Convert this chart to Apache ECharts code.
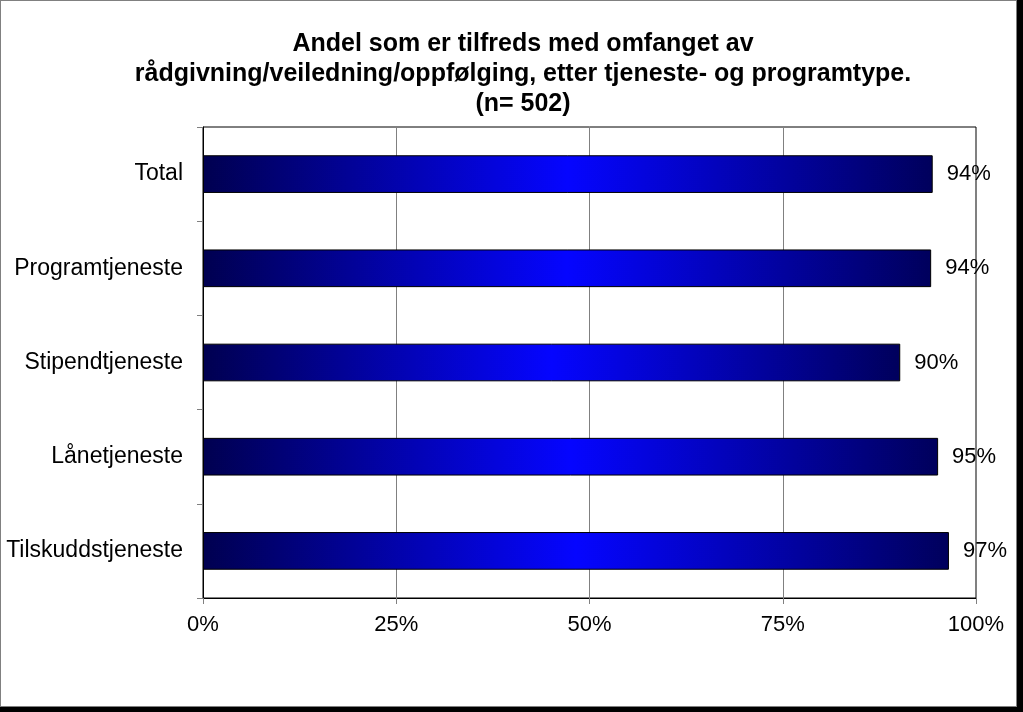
<!DOCTYPE html>
<html>
<head>
<meta charset="utf-8">
<script src="https://cdn.jsdelivr.net/npm/echarts@6/dist/echarts.min.js"></script>
<style>
html,body{margin:0;padding:0;background:#000;width:1023px;height:712px;overflow:hidden;}
#chart{position:absolute;left:0;top:0;width:1015px;height:705px;background:#fff;border:1px solid #808080;}
</style>
</head>
<body>
<div id="chart"></div>
<script>
var categories = ['Total', 'Programtjeneste', 'Stipendtjeneste', 'Lånetjeneste', 'Tilskuddstjeneste'];
var values = [94.4, 94.2, 90.2, 95.1, 96.5];
var valueLabels = ['94%', '94%', '90%', '95%', '97%'];
var tickValues = [0, 25, 50, 75, 100];

var chart = echarts.init(document.getElementById('chart'));
var grad = new echarts.graphic.LinearGradient(0, 0, 1, 0, [
  {offset: 0, color: '#000050'},
  {offset: 0.5, color: '#0505ff'},
  {offset: 1, color: '#00005c'}
]);
chart.setOption({
  animation: false,
  title: {
    text: 'Andel som er tilfreds med omfanget av\nrådgivning/veiledning/oppfølging, etter tjeneste- og programtype.\n(n= 502)',
    left: 522,
    textAlign: 'center',
    top: 28,
    padding: 0,
    textStyle: {fontFamily: 'Liberation Sans', fontSize: 25, fontWeight: 'bold', color: '#000', lineHeight: 30}
  },
  grid: {left: 202, right: 40, top: 126, bottom: 108, show: true, borderColor: '#000', borderWidth: 1, backgroundColor: 'transparent'},
  xAxis: {
    type: 'value', min: 0, max: 100, interval: 25,
    axisLine: {show: true, lineStyle: {color: '#000', width: 1}},
    axisTick: {show: true, length: 6, lineStyle: {color: '#808080'}},
    splitLine: {show: true, lineStyle: {color: '#808080', width: 1}},
    axisLabel: {margin: 16, fontFamily: 'Liberation Sans', fontSize: 22, color: '#000',
      formatter: function (v) { return tickValues.indexOf(v) >= 0 ? v + '%' : ''; }}
  },
  yAxis: {
    type: 'category', data: categories, inverse: true,
    axisLine: {show: true, lineStyle: {color: '#000', width: 1}},
    axisTick: {show: true, length: 6, lineStyle: {color: '#808080'}},
    axisLabel: {margin: 20, fontFamily: 'Liberation Sans', fontSize: 23, color: '#000'}
  },
  series: [{
    type: 'bar',
    data: values,
    barWidth: '40%',
    itemStyle: {color: grad, borderColor: '#000', borderWidth: 1},
    label: {show: true, position: 'right', distance: 14, fontFamily: 'Liberation Sans', fontSize: 22, color: '#000',
      formatter: function (p) { return valueLabels[p.dataIndex]; }}
  }]
});
</script>
</body>
</html>
